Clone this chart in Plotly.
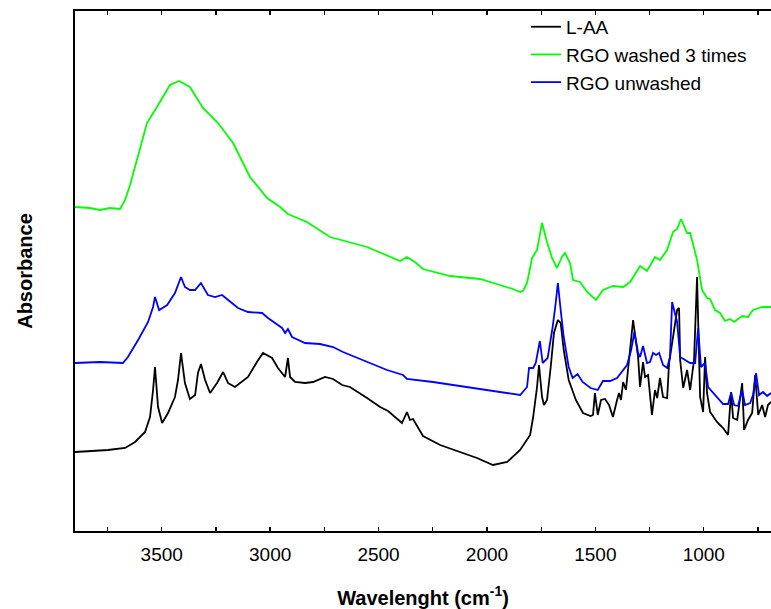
import plotly.graph_objects as go

# L-AA
laa_wn = [3900, 3748, 3669, 3623, 3577, 3554, 3540, 3531, 3517, 3498, 3471, 3439, 3425, 3411, 3393,
          3370, 3346, 3333, 3319, 3300, 3277, 3245, 3217, 3194, 3162, 3102, 3061, 3033, 2991, 2964,
          2931, 2918, 2908, 2885, 2839, 2802, 2747, 2710, 2668, 2632, 2553, 2493, 2456, 2392, 2369,
          2355, 2341, 2295, 2216, 2138, 2046, 1972, 1907, 1847, 1801, 1787, 1769, 1760, 1746, 1737,
          1723, 1706, 1691, 1673, 1660, 1646, 1623, 1590, 1557, 1522, 1511, 1502, 1489, 1474, 1456,
          1437, 1419, 1400, 1391, 1382, 1372, 1359, 1349, 1326, 1312, 1303, 1294, 1280, 1271, 1257,
          1239, 1225, 1215, 1202, 1188, 1169, 1160, 1142, 1123, 1114, 1109, 1095, 1077, 1063, 1045,
          1031, 1017, 1003, 994, 985, 971, 939, 911, 888, 874, 865, 846, 823, 814, 796,
          777, 763, 749, 731, 717, 704, 690]
laa_abs = [79, 81, 83, 89, 99, 114, 141, 164, 124, 108, 118, 134, 151, 178, 148,
           132, 136, 158, 167, 151, 138, 148, 159, 148, 144, 154, 169, 178, 173, 163,
           154, 173, 154, 149, 148, 149, 154, 152, 146, 144, 133, 124, 120, 108, 119,
           111, 112, 95, 86, 80, 73, 66, 69, 81, 96, 114, 144, 166, 134, 126,
           131, 164, 198, 211, 208, 181, 151, 131, 118, 115, 116, 138, 116, 131, 132,
           126, 114, 131, 138, 131, 149, 141, 164, 211, 188, 174, 144, 169, 154, 156,
           116, 141, 133, 153, 134, 133, 168, 194, 221, 223, 171, 143, 161, 141, 171,
           254, 134, 119, 174, 138, 119, 109, 103, 96, 139, 113, 111, 148, 101, 111,
           118, 156, 116, 126, 114, 126, 129]

# RGO washed 3 times
washed_wn = [3900, 3831, 3785, 3739, 3692, 3669, 3646, 3614, 3568, 3522, 3462, 3420, 3370, 3310, 3240,
             3171, 3093, 3014, 2954, 2918, 2830, 2724, 2553, 2401, 2369, 2332, 2295, 2170, 2032, 1940,
             1880, 1847, 1834, 1815, 1792, 1769, 1746, 1723, 1700, 1677, 1654, 1640, 1617, 1603, 1571,
             1538, 1497, 1465, 1419, 1372, 1340, 1294, 1262, 1225, 1202, 1169, 1142, 1123, 1105, 1077,
             1063, 1031, 1008, 985, 971, 948, 925, 902, 879, 860, 823, 796, 773, 731, 690]
washed_abs = [324, 323, 321, 323, 322, 331, 346, 371, 408, 424, 446, 450, 444, 423, 408,
              388, 354, 333, 324, 317, 309, 294, 284, 270, 274, 269, 262, 255, 252, 246,
              242, 239, 240, 248, 273, 281, 308, 289, 273, 263, 274, 278, 268, 251, 249,
              239, 231, 241, 245, 244, 249, 265, 260, 274, 271, 281, 299, 302, 312, 298,
              298, 271, 241, 233, 232, 221, 218, 210, 212, 209, 215, 214, 221, 224, 224]

# RGO unwashed
unwashed_wn = [3900, 3785, 3679, 3656, 3609, 3563, 3540, 3531, 3512, 3475, 3439, 3411, 3393, 3370, 3346,
               3319, 3287, 3254, 3222, 3194, 3148, 3102, 3037, 3010, 2945, 2931, 2918, 2899, 2839, 2770,
               2710, 2664, 2553, 2461, 2387, 2369, 2249, 2092, 1940, 1847, 1815, 1806, 1787, 1775, 1756,
               1743, 1720, 1697, 1683, 1673, 1660, 1646, 1623, 1605, 1582, 1559, 1522, 1489, 1465, 1432,
               1400, 1377, 1354, 1335, 1320, 1303, 1294, 1280, 1262, 1248, 1234, 1220, 1206, 1188, 1169,
               1156, 1146, 1123, 1109, 1086, 1063, 1040, 1026, 1013, 994, 980, 939, 911, 888, 874,
               860, 842, 823, 810, 786, 773, 759, 745, 727, 708, 690]
unwashed_abs = [168, 169, 168, 174, 191, 209, 224, 234, 221, 226, 238, 254, 244, 241, 241,
                248, 236, 234, 236, 231, 223, 219, 218, 213, 203, 198, 202, 194, 188, 187,
                184, 179, 169, 161, 156, 152, 149, 144, 139, 136, 144, 163, 163, 168, 190,
                168, 173, 204, 228, 248, 221, 194, 164, 153, 157, 149, 143, 141, 150, 150,
                153, 160, 166, 181, 199, 178, 174, 185, 168, 169, 178, 176, 178, 166, 163,
                174, 229, 209, 174, 171, 168, 168, 203, 164, 168, 144, 134, 127, 127, 138,
                126, 125, 141, 126, 128, 136, 158, 136, 139, 135, 138]

tick_vals = [3750, 3500, 3250, 3000, 2750, 2500, 2250, 2000, 1750, 1500, 1250, 1000, 750]
tick_text = ["", "3500", "", "3000", "", "2500", "", "2000", "", "1500", "", "1000", ""]

x_range = [3900, 690]
y_range = [0, 520]

fig = go.Figure()
fig.add_trace(go.Scatter(x=laa_wn, y=laa_abs, mode="lines", name="L-AA",
                         line=dict(color="#000000", width=1.8)))
fig.add_trace(go.Scatter(x=washed_wn, y=washed_abs, mode="lines", name="RGO washed 3 times",
                         line=dict(color="#00FF00", width=1.8)))
fig.add_trace(go.Scatter(x=unwashed_wn, y=unwashed_abs, mode="lines", name="RGO unwashed",
                         line=dict(color="#0000FF", width=1.8)))

font_family = "Arial, Liberation Sans, sans-serif"

fig.update_layout(
    width=771, height=609,
    margin=dict(l=75, r=0, t=11, b=78, autoexpand=False),
    paper_bgcolor="white", plot_bgcolor="white",
    font=dict(family=font_family, size=19, color="black"),
    showlegend=True,
    legend=dict(x=0.648, y=1.006, xanchor="left", yanchor="top",
                bgcolor="rgba(0,0,0,0)", borderwidth=0,
                font=dict(size=19, family=font_family),
                tracegroupgap=0, itemwidth=30),
    xaxis=dict(range=x_range, showgrid=False, zeroline=False, automargin=False,
               showline=True, linecolor="black", linewidth=1.6, mirror="ticks",
               ticks="inside", ticklen=4, tickwidth=1.3, tickcolor="black",
               tickvals=tick_vals, ticktext=tick_text,
               tickfont=dict(size=19), ticklabelstandoff=6,
               title=dict(text="<b>Wavelenght (cm<sup>-1</sup>)</b>", font=dict(size=20), standoff=26)),
    yaxis=dict(range=y_range, showgrid=False, zeroline=False, automargin=False,
               showline=True, linecolor="black", linewidth=2,
               ticks="", showticklabels=False,
               title=dict(text="<b>Absorbance</b>", font=dict(size=20), standoff=35)),
)

fig.write_html("out.html",
               config={"displayModeBar": False, "staticPlot": True},
               post_script="document.body.style.margin='0';document.body.style.padding='0';")
